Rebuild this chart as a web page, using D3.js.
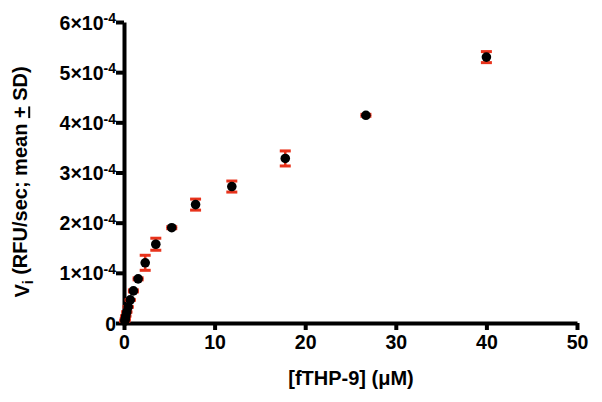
<!DOCTYPE html>
<html><head><meta charset="utf-8">
<script src="https://cdn.jsdelivr.net/npm/d3@7"></script>
<style>body{margin:0;background:#fff}svg{display:block}</style>
</head><body>
<svg id="c" width="602" height="402"></svg>
<script>
const conc = [40, 26.7, 17.8, 11.9, 7.9, 5.27, 3.51, 2.34, 1.56, 1.04, 0.69, 0.46, 0.31, 0.2, 0.14, 0.09];
const vi   = [5.30e-4, 4.14e-4, 3.28e-4, 2.72e-4, 2.36e-4, 1.90e-4, 1.57e-4, 1.20e-4, 0.88e-4, 0.64e-4, 0.46e-4, 0.32e-4, 0.22e-4, 0.14e-4, 0.08e-4, 0.04e-4];
const sd   = [0.11e-4, 0.02e-4, 0.15e-4, 0.11e-4, 0.11e-4, 0.02e-4, 0.12e-4, 0.15e-4, 0.02e-4, 0.02e-4, 0.01e-4, 0.01e-4, 0.01e-4, 0.01e-4, 0.01e-4, 0.01e-4];
const xTicks = [0, 10, 20, 30, 40, 50];
const yTicks = [0, 1e-4, 2e-4, 3e-4, 4e-4, 5e-4, 6e-4];
const yTickMant = ["0", "1", "2", "3", "4", "5", "6"];

const svg = d3.select("#c");
const x = d3.scaleLinear().domain([0, 50]).range([124, 577]);
const y = d3.scaleLinear().domain([0, 6e-4]).range([323, 22]);
const font = "Arial, 'Liberation Sans', sans-serif";

// axes
const xa = svg.append("g").attr("transform", "translate(0,323)")
  .call(d3.axisBottom(x).tickValues(xTicks).tickSize(7).tickPadding(5).tickSizeOuter(0));
xa.select(".domain").attr("stroke-width", 4).attr("stroke", "#000");
xa.selectAll(".tick line").attr("stroke-width", 4);
xa.selectAll(".tick text").attr("font-family", font).attr("font-weight", "bold").attr("font-size", 19.5).attr("fill", "#000");

const ya = svg.append("g").attr("transform", "translate(124,0)")
  .call(d3.axisLeft(y).tickValues(yTicks).tickSize(8).tickSizeOuter(0).tickFormat(""));
ya.select(".domain").attr("stroke-width", 4).attr("stroke", "#000");
ya.selectAll(".tick line").attr("stroke-width", 4);
ya.selectAll(".tick").each(function(d, i) {
  const t = d3.select(this).append("text").attr("x", -8).attr("dy", "0.36em")
    .attr("text-anchor", "end").attr("font-family", font).attr("font-weight", "bold")
    .attr("font-size", 19.5).attr("fill", "#000");
  if (i === 0) { t.text("0"); }
  else {
    t.append("tspan").text(yTickMant[i] + "\u00d710");
    t.append("tspan").attr("dy", "-0.45em").attr("font-size", 14).text("-4");
  }
});

// error bars
const eg = svg.append("g").attr("stroke", "#e8331c").attr("stroke-width", 2.5);
conc.forEach((c, i) => {
  const cx = x(c);
  eg.append("line").attr("x1", cx).attr("x2", cx).attr("y1", y(vi[i] + sd[i])).attr("y2", y(vi[i] - sd[i]));
  [vi[i] + sd[i], vi[i] - sd[i]].forEach(v => {
    eg.append("line").attr("x1", cx - 5.5).attr("x2", cx + 5.5).attr("y1", y(v)).attr("y2", y(v)).attr("stroke-width", 3);
  });
});

// points
svg.append("g").selectAll("circle").data(conc).join("circle")
  .attr("cx", d => x(d)).attr("cy", (d, i) => y(vi[i])).attr("r", 4.8).attr("fill", "#000");

// axis titles
svg.append("text").attr("x", 351).attr("y", 385).attr("text-anchor", "middle")
  .attr("font-family", font).attr("font-weight", "bold").attr("font-size", 20).text("[fTHP-9] (\u03bcM)");

const yt = svg.append("text").attr("transform", "translate(29,182) rotate(-90)").attr("text-anchor", "middle")
  .attr("font-family", font).attr("font-weight", "bold").attr("font-size", 20);
yt.append("tspan").text("V");
yt.append("tspan").attr("dy", "0.3em").attr("font-size", 14).text("i");
yt.append("tspan").attr("dy", "-0.3em").text(" (RFU/sec; mean ");
yt.append("tspan").attr("text-decoration", "underline").text("+");
yt.append("tspan").text(" SD)");
</script>
</body></html>
